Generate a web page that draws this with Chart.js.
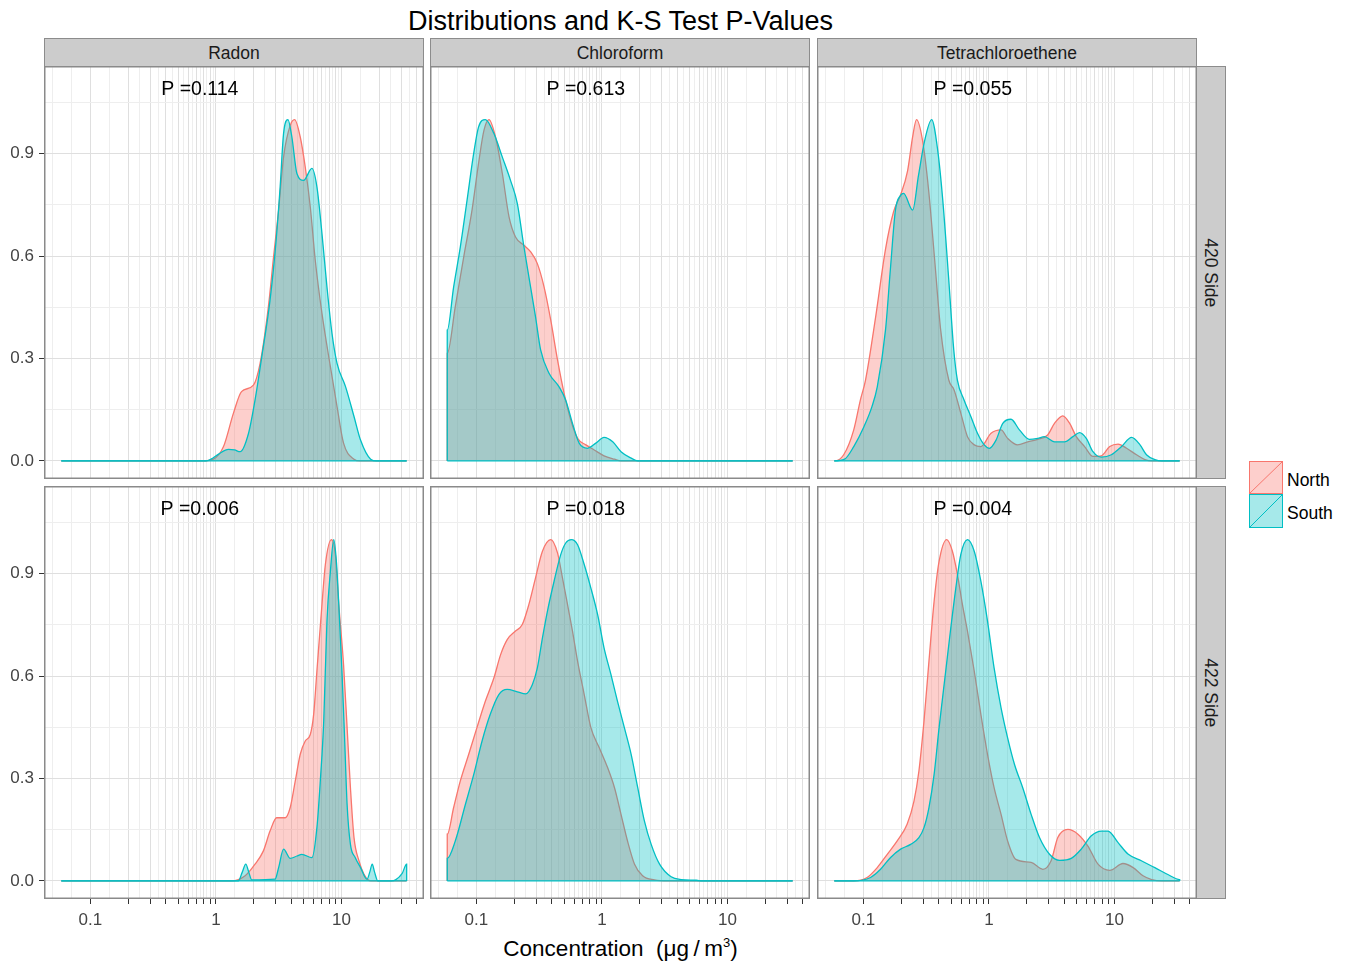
<!DOCTYPE html>
<html>
<head>
<meta charset="utf-8">
<title>Distributions and K-S Test P-Values</title>
<script src="https://cdn.jsdelivr.net/npm/chart.js@4.4.1/dist/chart.umd.min.js"></script>
<style>
  body { margin: 0; background: #fff; font-family: "Liberation Sans", Arial, sans-serif; }
  #page { position: relative; width: 1351px; height: 966px; overflow: hidden; }
  canvas { position: absolute; }
  .txt { position: absolute; line-height: 1; white-space: nowrap; }
  .strip {
    position: absolute; box-sizing: border-box; background: #CCCCCC; border: 1px solid #8C8C8C;
    color: #1A1A1A; font-size: 17.5px; line-height: 1;
    display: flex; align-items: center; justify-content: center;
  }
  .strip span { display: block; white-space: nowrap; }
  .hstrip span { padding-top: 3px; }
  .vstrip span { transform: rotate(90deg); }
  sup { font-size: 13px; vertical-align: 9px; line-height: 0; }
</style>
</head>
<body>
<div id="page">
  <div class="txt" style="left:44px; width:1153px; top:8px; text-align:center; font-size:27px; color:#000;">Distributions and K-S Test P-Values</div>
  <div class="txt" style="left:44px; width:1153px; top:938px; text-align:center; font-size:22.5px; color:#000;">Concentration&nbsp;&nbsp;(μg&#8201;/&#8201;m<sup>3</sup>)</div>
  <svg style="position:absolute; left:1249px; top:461px;" width="36" height="68">
    <rect x="0.5" y="0.5" width="33" height="32" fill="rgba(248,118,109,0.35)" stroke="#F8766D"/>
    <line x1="0.5" y1="32.5" x2="33.5" y2="0.5" stroke="#F8766D"/>
    <rect x="0.5" y="33.5" width="33" height="33" fill="rgba(0,191,196,0.35)" stroke="#00BFC4"/>
    <line x1="0.5" y1="66.5" x2="33.5" y2="33.5" stroke="#00BFC4"/>
  </svg>
  <div class="txt" style="left:1287px; top:472px; font-size:17.5px; color:#000;">North</div>
  <div class="txt" style="left:1287px; top:505px; font-size:17.5px; color:#000;">South</div>
</div>
<script>
"use strict";

// Facets, groups and K-S p-values
const compounds = ["Radon", "Chloroform", "Tetrachloroethene"];
const sides = ["420 Side", "422 Side"];
const pValues420 = [0.114, 0.613, 0.055];
const pValues422 = [0.006, 0.018, 0.004];

// Axis breaks and labels
const xTickLabels = [0.1, 1, 10];
const xBreaks = [0.1, 0.2, 0.3, 0.4, 0.5, 0.6, 0.7, 0.8, 0.9, 1, 2, 3, 4, 5, 6, 7, 8, 9, 10, 20, 30, 40];
const yBreaks = [0, 0.3, 0.6, 0.9];
const yMinorBreaks = [0.15, 0.45, 0.75, 1.05];

// Scaled densities (x = concentration, y = scaled density)
// Radon, 420 Side
const radon420NorthX = [0.0586, 0.794, 0.955, 1.15, 1.38, 1.60, 1.99, 2.25, 2.62, 2.88, 3.16, 3.46, 3.91, 4.24, 4.70, 5.15, 5.65, 6.19, 7.00, 8.17, 9.23, 10.4, 12.6, 14.1, 33.1];
const radon420NorthY = [0, 0, 0.005, 0.042, 0.14, 0.203, 0.222, 0.286, 0.452, 0.598, 0.735, 0.89, 0.983, 1.0, 0.949, 0.861, 0.744, 0.588, 0.432, 0.276, 0.159, 0.052, 0.005, 0, 0];
const radon420SouthX = [0.0586, 0.832, 0.912, 1.05, 1.26, 1.41, 1.56, 1.82, 2.05, 2.32, 2.70, 3.02, 3.25, 3.46, 3.75, 4.03, 4.42, 5.00, 5.82, 6.38, 7.00, 7.67, 8.41, 9.23, 10.8, 12.6, 14.2, 17.1, 19.1, 33.1];
const radon420SouthY = [0, 0, 0.005, 0.02, 0.034, 0.032, 0.027, 0.081, 0.178, 0.305, 0.471, 0.647, 0.803, 0.959, 1.0, 0.949, 0.842, 0.822, 0.857, 0.803, 0.666, 0.51, 0.374, 0.286, 0.217, 0.13, 0.061, 0.005, 0, 0];

// Chloroform, 420 Side
const chloro420NorthX = [0.0586, 0.0679, 0.0793, 0.0923, 0.104, 0.115, 0.126, 0.142, 0.161, 0.182, 0.205, 0.239, 0.270, 0.306, 0.346, 0.391, 0.443, 0.500, 0.565, 0.640, 0.745, 0.869, 1.04, 1.26, 1.42, 33.1];
const chloro420NorthY = [0.315, 0.452, 0.598, 0.735, 0.871, 0.969, 1.0, 0.949, 0.842, 0.715, 0.656, 0.632, 0.613, 0.578, 0.51, 0.413, 0.296, 0.198, 0.12, 0.066, 0.047, 0.032, 0.015, 0.005, 0, 0];
const chloro420SouthX = [0.0586, 0.0659, 0.0745, 0.0843, 0.0951, 0.104, 0.118, 0.138, 0.161, 0.187, 0.212, 0.237, 0.262, 0.296, 0.325, 0.379, 0.456, 0.515, 0.583, 0.659, 0.767, 0.895, 1.04, 1.22, 1.42, 1.71, 1.93, 33.1];
const chloro420SouthY = [0.383, 0.51, 0.627, 0.764, 0.90, 0.978, 1.0, 0.959, 0.89, 0.822, 0.754, 0.637, 0.539, 0.422, 0.325, 0.257, 0.217, 0.178, 0.11, 0.052, 0.037, 0.052, 0.069, 0.056, 0.027, 0.008, 0, 0];

// Tetrachloroethene, 420 Side
const tetra420NorthX = [0.0586, 0.0697, 0.0838, 0.0946, 0.104, 0.125, 0.150, 0.174, 0.198, 0.225, 0.247, 0.265, 0.296, 0.331, 0.370, 0.413, 0.479, 0.528, 0.597, 0.675, 0.764, 0.863, 1.04, 1.25, 1.41, 1.69, 2.04, 2.45, 2.94, 3.33, 3.88, 4.40, 4.97, 5.79, 6.75, 7.87, 9.18, 10.7, 12.5, 15.0, 17.5, 19.8, 33.1];
const tetra420NorthY = [0, 0.018, 0.091, 0.178, 0.237, 0.42, 0.62, 0.73, 0.78, 0.85, 0.95, 1.0, 0.939, 0.793, 0.588, 0.383, 0.237, 0.208, 0.14, 0.071, 0.047, 0.042, 0.081, 0.091, 0.066, 0.047, 0.056, 0.063, 0.076, 0.11, 0.132, 0.11, 0.071, 0.042, 0.013, 0.015, 0.042, 0.049, 0.037, 0.018, 0.004, 0, 0];
const tetra420SouthX = [0.0586, 0.0708, 0.0838, 0.101, 0.117, 0.129, 0.150, 0.164, 0.180, 0.198, 0.209, 0.247, 0.275, 0.308, 0.350, 0.391, 0.429, 0.479, 0.525, 0.561, 0.635, 0.718, 0.811, 0.918, 1.01, 1.14, 1.29, 1.50, 1.75, 2.10, 2.45, 2.77, 3.33, 4.01, 4.67, 5.28, 5.97, 6.75, 7.87, 9.46, 11.4, 13.7, 16.0, 18.0, 21.0, 23.8, 33.1];
const tetra420SouthY = [0, 0.005, 0.042, 0.1, 0.159, 0.217, 0.383, 0.56, 0.735, 0.778, 0.784, 0.735, 0.837, 0.939, 1.0, 0.91, 0.764, 0.53, 0.325, 0.237, 0.178, 0.13, 0.081, 0.047, 0.037, 0.061, 0.11, 0.122, 0.091, 0.063, 0.066, 0.071, 0.056, 0.056, 0.071, 0.083, 0.066, 0.027, 0.011, 0.018, 0.042, 0.069, 0.047, 0.018, 0.004, 0, 0];

// Radon, 422 Side
const radon422NorthX = [0.0586, 1.33, 1.71, 2.05, 2.39, 2.70, 3.05, 3.56, 3.91, 4.29, 4.70, 5.15, 5.65, 6.01, 6.38, 7.00, 7.45, 8.32, 8.95, 9.53, 10.4, 11.1, 11.8, 12.6, 13.8, 15.1, 17.1, 33.1];
const radon422NorthY = [0, 0, 0.015, 0.049, 0.088, 0.146, 0.185, 0.185, 0.215, 0.293, 0.371, 0.41, 0.429, 0.488, 0.615, 0.81, 0.927, 1.0, 0.956, 0.81, 0.634, 0.449, 0.273, 0.127, 0.059, 0.02, 0, 0];
const radon422SouthX = [0.0586, 1.51, 1.62, 1.73, 1.83, 1.93, 2.96, 3.16, 3.46, 3.91, 4.42, 4.84, 5.82, 6.38, 6.79, 7.23, 7.67, 8.17, 8.69, 9.12, 9.53, 10.1, 10.6, 11.1, 11.8, 12.9, 14.2, 16.0, 16.8, 17.6, 18.4, 19.5, 25.1, 27.0, 30.5, 33.1];
const radon422SouthY = [0, 0, 0.025, 0.049, 0.025, 0.003, 0.005, 0.039, 0.093, 0.066, 0.073, 0.078, 0.068, 0.156, 0.293, 0.468, 0.761, 0.907, 1.0, 0.936, 0.81, 0.615, 0.419, 0.224, 0.107, 0.068, 0.039, 0.005, 0.025, 0.049, 0.025, 0, 0, 0.003, 0.022, 0.049];

// Chloroform, 422 Side
const chloro422NorthX = [0.0586, 0.0659, 0.0745, 0.0869, 0.101, 0.118, 0.138, 0.156, 0.176, 0.205, 0.232, 0.262, 0.296, 0.336, 0.391, 0.443, 0.485, 0.532, 0.583, 0.640, 0.723, 0.817, 0.953, 1.11, 1.26, 1.42, 1.60, 1.82, 2.11, 2.62, 3.35, 33.1];
const chloro422NorthY = [0.137, 0.215, 0.293, 0.371, 0.449, 0.527, 0.595, 0.663, 0.707, 0.732, 0.751, 0.81, 0.888, 0.966, 1.0, 0.961, 0.888, 0.81, 0.732, 0.644, 0.546, 0.449, 0.39, 0.332, 0.273, 0.195, 0.117, 0.049, 0.015, 0.003, 0, 0];
const chloro422SouthX = [0.0586, 0.0679, 0.0817, 0.0953, 0.111, 0.129, 0.151, 0.176, 0.212, 0.247, 0.279, 0.306, 0.336, 0.368, 0.416, 0.470, 0.515, 0.571, 0.640, 0.723, 0.817, 0.925, 1.04, 1.18, 1.33, 1.51, 1.71, 1.93, 2.18, 2.47, 2.88, 3.56, 4.29, 5.65, 6.31, 33.1];
const chloro422SouthY = [0.066, 0.117, 0.224, 0.312, 0.41, 0.488, 0.546, 0.561, 0.554, 0.548, 0.575, 0.624, 0.712, 0.79, 0.878, 0.956, 0.99, 1.0, 0.985, 0.927, 0.858, 0.78, 0.683, 0.605, 0.527, 0.449, 0.371, 0.273, 0.176, 0.107, 0.049, 0.012, 0.004, 0.002, 0, 0];

// Tetrachloroethene, 422 Side
const tetra422NorthX = [0.0586, 0.0838, 0.107, 0.129, 0.155, 0.186, 0.223, 0.253, 0.277, 0.304, 0.333, 0.366, 0.401, 0.461, 0.512, 0.561, 0.615, 0.675, 0.764, 0.863, 0.975, 1.10, 1.25, 1.41, 1.64, 2.17, 2.69, 3.13, 3.54, 4.26, 5.12, 6.15, 7.40, 9.18, 11.7, 14.1, 16.9, 19.8, 23.8, 33.1];
const tetra422NorthY = [0, 0, 0.01, 0.039, 0.078, 0.117, 0.166, 0.234, 0.322, 0.468, 0.644, 0.819, 0.936, 1.0, 0.966, 0.898, 0.81, 0.732, 0.615, 0.488, 0.371, 0.273, 0.195, 0.117, 0.063, 0.054, 0.034, 0.059, 0.127, 0.151, 0.137, 0.102, 0.049, 0.031, 0.051, 0.039, 0.015, 0.004, 0, 0];
const tetra422SouthX = [0.0586, 0.0838, 0.114, 0.137, 0.164, 0.198, 0.238, 0.277, 0.304, 0.333, 0.366, 0.401, 0.453, 0.497, 0.545, 0.597, 0.675, 0.764, 0.863, 0.975, 1.10, 1.25, 1.41, 1.60, 1.86, 2.17, 2.53, 3.04, 3.66, 4.53, 5.44, 6.55, 7.87, 8.89, 10.7, 12.9, 16.4, 21.0, 26.9, 33.1];
const tetra422SouthY = [0, 0, 0.01, 0.034, 0.068, 0.093, 0.107, 0.127, 0.156, 0.215, 0.312, 0.449, 0.615, 0.741, 0.858, 0.956, 1.0, 0.966, 0.878, 0.761, 0.624, 0.507, 0.419, 0.341, 0.273, 0.195, 0.127, 0.078, 0.06, 0.066, 0.093, 0.132, 0.146, 0.146, 0.112, 0.078, 0.059, 0.039, 0.018, 0.004];

const facets = [
  [
    { north: [radon420NorthX, radon420NorthY], south: [radon420SouthX, radon420SouthY], p: pValues420[0] },
    { north: [chloro420NorthX, chloro420NorthY], south: [chloro420SouthX, chloro420SouthY], p: pValues420[1] },
    { north: [tetra420NorthX, tetra420NorthY], south: [tetra420SouthX, tetra420SouthY], p: pValues420[2] },
  ],
  [
    { north: [radon422NorthX, radon422NorthY], south: [radon422SouthX, radon422SouthY], p: pValues422[0] },
    { north: [chloro422NorthX, chloro422NorthY], south: [chloro422SouthX, chloro422SouthY], p: pValues422[1] },
    { north: [tetra422NorthX, tetra422NorthY], south: [tetra422SouthX, tetra422SouthY], p: pValues422[2] },
  ],
];

// where the "P =" text sits, in data units
const pLabelX = 0.745;
const pLabelY = 1.1;

// Look
const northColor = "#F8766D";
const southColor = "#00BFC4";
const northFill = "rgba(248,118,109,0.35)";
const southFill = "rgba(0,191,196,0.35)";
const majorGrid = "#DFDFDF";
const minorGrid = "#EEEEEE";
const tickColor = "#333333";
const tickText = "#444444";

// Layout of the facet grid on the page
const panelLeft = [44, 430, 817];
const panelTop = [66, 486];
const panelW = 380;
const panelH = 413;
const yAxisW = 45;
const xAxisH = 42;

Chart.defaults.font.family = '"Liberation Sans", Arial, sans-serif';

// ggplot-style minor breaks: halfway (in log space) between the major ones, plus one step below
const xMinorBreaks = [0.05, 0.0707].concat(xBreaks.slice(1).map((b, i) => Math.sqrt(b * xBreaks[i])));
const xGrid = xBreaks.concat(xMinorBreaks).sort((a, b) => a - b);
const yGrid = yBreaks.concat(yMinorBreaks).sort((a, b) => a - b);

function inList(list, v) {
  return list.some((m) => Math.abs(m - v) < 1e-9);
}

// the density polygon starts and ends on the baseline
function toPoints(xs, ys) {
  const pts = xs.map((x, i) => ({ x: x, y: ys[i] }));
  pts.unshift({ x: xs[0], y: 0 });
  pts.push({ x: xs[xs.length - 1], y: 0 });
  return pts;
}

const panelDecor = {
  id: "panelDecor",
  afterDraw(chart, args, opts) {
    const { ctx, chartArea: a, scales } = chart;
    ctx.save();
    ctx.font = '19.5px "Liberation Sans", Arial, sans-serif';
    ctx.fillStyle = "#000";
    ctx.textAlign = "center";
    ctx.textBaseline = "alphabetic";
    ctx.fillText(opts.text, scales.x.getPixelForValue(pLabelX), scales.y.getPixelForValue(pLabelY) + 9.5);
    ctx.strokeStyle = "#8A8A8A";
    ctx.lineWidth = 1.5;
    ctx.strokeRect(a.left + 0.75, a.top + 0.75, a.width - 1.5, a.height - 1.5);
    ctx.restore();
  },
};

function drawPanel(row, col) {
  const facet = facets[row][col];
  const axisW = col === 0 ? yAxisW : 0;
  const axisH = row === 1 ? xAxisH : 0;
  const southX = facet.south[0];

  const canvas = document.createElement("canvas");
  canvas.width = panelW + axisW;
  canvas.height = panelH + axisH;
  canvas.style.left = panelLeft[col] - axisW + "px";
  canvas.style.top = panelTop[row] + "px";
  canvas.style.width = canvas.width + "px";
  canvas.style.height = canvas.height + "px";
  document.getElementById("page").appendChild(canvas);

  new Chart(canvas, {
    type: "line",
    data: {
      datasets: [
        {
          label: "North",
          data: toPoints(facet.north[0], facet.north[1]),
          borderColor: northColor,
          backgroundColor: northFill,
          fill: "origin",
          order: 2,
        },
        {
          label: "South",
          data: toPoints(facet.south[0], facet.south[1]),
          borderColor: southColor,
          backgroundColor: southFill,
          fill: "origin",
          order: 1,
        },
        {
          // bottom edge of the South polygon, drawn over both fills
          label: "South baseline",
          data: [{ x: southX[0], y: 0 }, { x: southX[southX.length - 1], y: 0 }],
          borderColor: southColor,
          fill: false,
          order: 0,
        },
      ],
    },
    options: {
      responsive: false,
      animation: false,
      devicePixelRatio: 1,
      parsing: false,
      layout: { padding: 0 },
      elements: {
        point: { radius: 0 },
        line: { borderWidth: 1.3, cubicInterpolationMode: "monotone" },
      },
      plugins: {
        legend: { display: false },
        tooltip: { enabled: false },
        panelDecor: { text: "P =" + facet.p.toFixed(3) },
      },
      scales: {
        x: {
          type: "logarithmic",
          min: 0.0427,
          max: 45.5,
          afterBuildTicks: (s) => { s.ticks = xGrid.map((v) => ({ value: v })); },
          afterFit: (s) => { s.height = axisH; },
          border: { display: false },
          grid: {
            color: (c) => (inList(xBreaks, c.tick.value) ? majorGrid : minorGrid),
            tickColor: (c) => (inList(xBreaks, c.tick.value) ? tickColor : "rgba(0,0,0,0)"),
            drawTicks: row === 1,
            tickLength: 5,
          },
          ticks: {
            display: row === 1,
            autoSkip: false,
            maxRotation: 0,
            padding: 6,
            color: tickText,
            font: { size: 17 },
            callback: (v) => (xTickLabels.includes(v) ? String(v) : ""),
          },
        },
        y: {
          type: "linear",
          min: -0.053,
          max: 1.157,
          afterBuildTicks: (s) => { s.ticks = yGrid.map((v) => ({ value: v })); },
          afterFit: (s) => { s.width = axisW; },
          border: { display: false },
          grid: {
            color: (c) => (inList(yBreaks, c.tick.value) ? majorGrid : minorGrid),
            tickColor: (c) => (inList(yBreaks, c.tick.value) ? tickColor : "rgba(0,0,0,0)"),
            drawTicks: col === 0,
            tickLength: 10,
            tickBorderDash: [5, 5],
            tickBorderDashOffset: 5,
          },
          ticks: {
            display: col === 0,
            autoSkip: false,
            padding: 0,
            color: tickText,
            font: { size: 17, lineHeight: 0 },
            callback: (v) => (inList(yBreaks, v) ? v.toFixed(1) : ""),
          },
        },
      },
    },
    plugins: [panelDecor],
  });
}

function drawStrips() {
  const page = document.getElementById("page");
  compounds.forEach(function (name, col) {
    const s = document.createElement("div");
    s.className = "strip hstrip";
    s.style.left = panelLeft[col] + "px";
    s.style.top = "38px";
    s.style.width = panelW + "px";
    s.style.height = "29px";
    s.innerHTML = "<span>" + name + "</span>";
    page.appendChild(s);
  });
  sides.forEach(function (name, row) {
    const s = document.createElement("div");
    s.className = "strip vstrip";
    s.style.left = panelLeft[2] + panelW - 1 + "px";
    s.style.top = panelTop[row] + "px";
    s.style.width = "30px";
    s.style.height = panelH + "px";
    s.innerHTML = "<span>" + name + "</span>";
    page.appendChild(s);
  });
}

drawStrips();
for (let r = 0; r < 2; r++) {
  for (let c = 0; c < 3; c++) {
    drawPanel(r, c);
  }
}
</script>
</body>
</html>
